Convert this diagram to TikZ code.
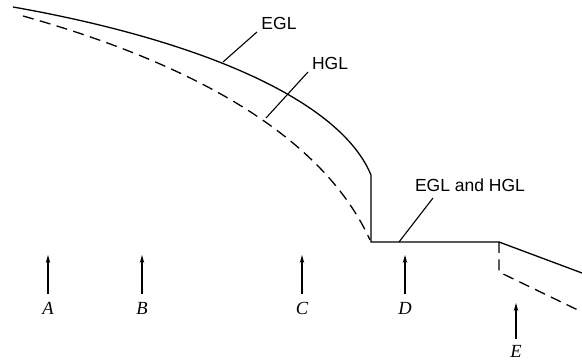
\documentclass[tikz,border=0pt]{standalone}
\usepackage{fontspec}
\setmainfont{Liberation Serif}
\newfontfamily\lblfont{Liberation Sans}
\usetikzlibrary{arrows.meta}
\begin{document}
\begin{tikzpicture}[x=1pt,y=-1pt,
  line/.style={line width=1.3pt,line join=miter},
  dline/.style={line width=1.3pt,dash pattern=on 11pt off 6.5pt},
  lead/.style={line width=1.1pt},
  lbl/.style={font=\lblfont\fontsize{17.5}{19}\selectfont,inner sep=0pt},
  sec/.style={font=\itshape\fontsize{18.5}{20}\selectfont,inner sep=0pt},
  arr/.style={line width=1.2pt,-{Stealth[length=8pt,width=4.5pt]}}]
\useasboundingbox (0,0) rectangle (582,363);
% EGL
\coordinate (e0) at (13,7);
\coordinate (e1) at (371,175);
\coordinate (e2) at (371,242);
\coordinate (e3) at (499,242);
\coordinate (e4) at (582,273);
\draw[line] (e0) .. controls (200,40) and (340,100) .. (e1) -- (e2) -- (e3) -- (e4);
% HGL
\coordinate (h0) at (23,16);
\coordinate (h1) at (370,240);
\coordinate (h2) at (499,242);
\coordinate (h3) at (499,272);
\coordinate (h4) at (582,312);
\draw[dline] (h0) .. controls (180,60) and (320,130) .. (h1);
\draw[dline] (h2) -- (h3) -- (h4);
% labels
\node[lbl] (egl) at (279,23) {EGL};
\node[lbl] (hgl) at (330,63) {HGL};
\node[lbl] (both) at (470,185) {EGL and HGL};
\coordinate (pe) at (223,62);
\coordinate (ph) at (266,118);
\coordinate (pb) at (399,242);
\coordinate (qe) at (257,32);
\coordinate (qh) at (308,72);
\coordinate (qb) at (433,198);
\draw[lead] (pe) -- (qe);
\draw[lead] (ph) -- (qh);
\draw[lead] (pb) -- (qb);
% sections
\foreach \n/\x in {A/48,B/142,C/302,D/405}{
  \node[sec] (l\n) at (\x,308) {\n};
  \coordinate (t\n) at (\x,255);
  \draw[arr] (\x,294) -- (t\n);
}
\node[sec] (lE) at (516,351) {E};
\coordinate (tE) at (516,303);
\draw[arr] (516,339) -- (tE);
\end{tikzpicture}
\end{document}
